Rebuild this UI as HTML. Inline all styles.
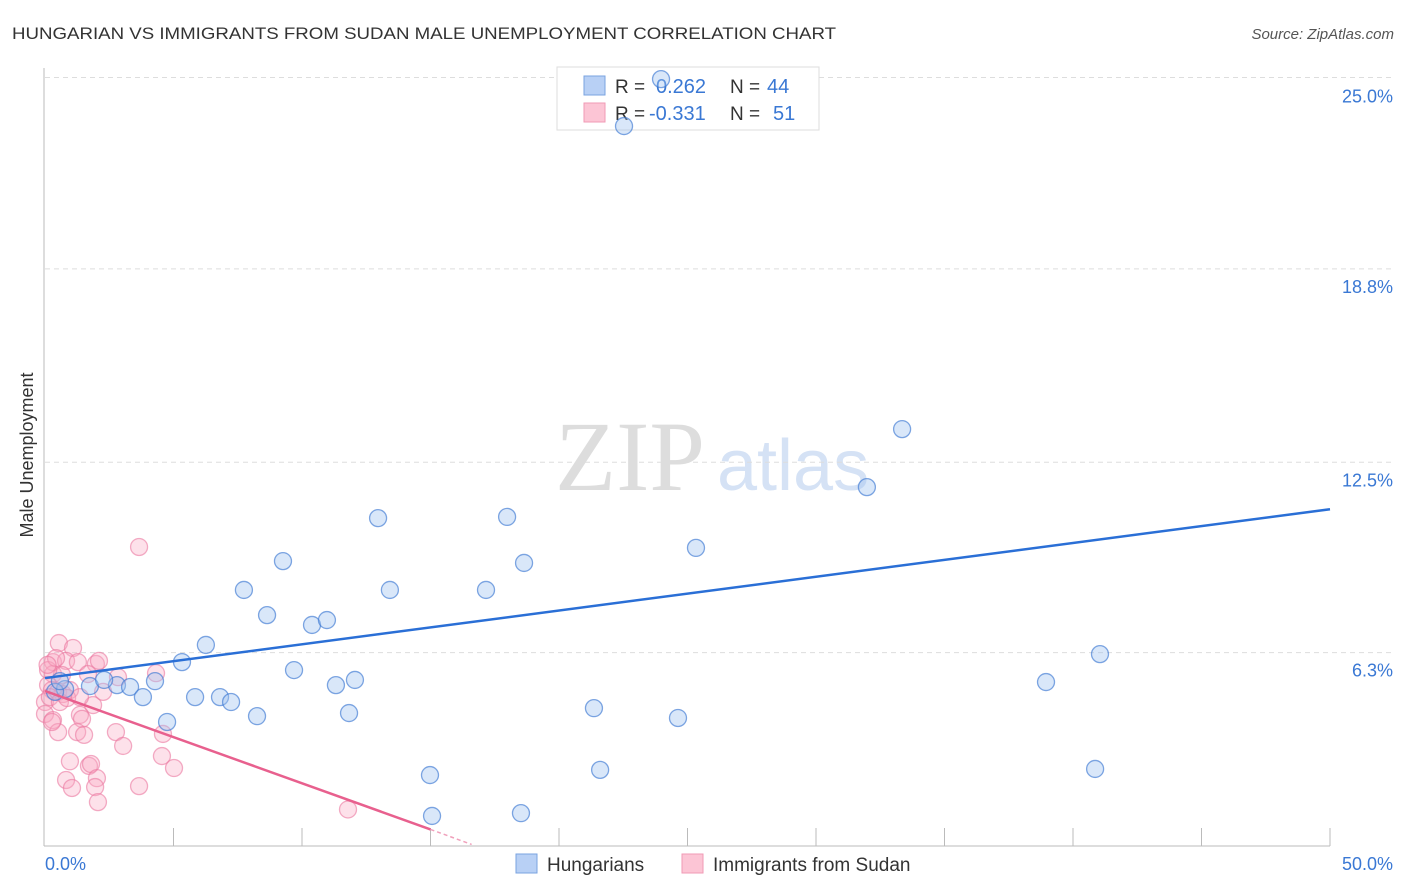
<!DOCTYPE html>
<html><head><meta charset="utf-8"><style>
body{margin:0;background:#fff;font-family:"Liberation Sans",sans-serif}
svg{display:block}
</style></head><body>
<svg id="chart" width="1406" height="892">
<text x="12" y="39" font-size="17" fill="#333" textLength="824" lengthAdjust="spacingAndGlyphs">HUNGARIAN VS IMMIGRANTS FROM SUDAN MALE UNEMPLOYMENT CORRELATION CHART</text>
<text x="1394" y="39" font-size="15" fill="#555" font-style="italic" text-anchor="end">Source: ZipAtlas.com</text>
<text x="33" y="455" font-size="18" fill="#333" text-anchor="middle" transform="rotate(-90 33 455)">Male Unemployment</text>
<text x="555" y="490" font-size="100" fill="#ddd" font-family="Liberation Serif">ZIP</text>
<text x="717" y="490" font-size="72" fill="#d5e2f5">atlas</text>
<g id="grid"></g><g id="axes"></g>
<g>
<rect x="557" y="67" width="262" height="63" fill="#fff" stroke="#ddd"/>
<rect x="584" y="76" width="21" height="19" fill="#b8d0f5" stroke="#7aa3e0"/>
<rect x="584" y="103" width="21" height="19" fill="#fcc5d5" stroke="#f09ab5"/>
<text x="615" y="93" font-size="19" fill="#333">R = </text><text x="656" y="93" font-size="20" fill="#3a78d4">0.262</text>
<text x="730" y="93" font-size="19" fill="#333">N = </text><text x="767" y="93" font-size="20" fill="#3a78d4">44</text>
<text x="615" y="120" font-size="19" fill="#333">R = </text><text x="649" y="120" font-size="20" fill="#3a78d4">-0.331</text>
<text x="730" y="120" font-size="19" fill="#333">N = </text><text x="773" y="120" font-size="20" fill="#3a78d4">51</text>
</g>
<g id="pts"></g><g id="trends"></g>
<g>
<rect x="516" y="854" width="21" height="19" fill="#b8d0f5" stroke="#7aa3e0"/>
<text x="547" y="871" font-size="19" fill="#333">Hungarians</text>
<rect x="682" y="854" width="21" height="19" fill="#fcc5d5" stroke="#f09ab5"/>
<text x="713" y="871" font-size="19" fill="#333">Immigrants from Sudan</text>
</g>
</svg>
<script>
const yTicks=[25,18.8,12.5,6.3];
const yTickLabels=["25.0%","18.8%","12.5%","6.3%"];
const xTickLabels=["0.0%","50.0%"];
const blueX=[23.97,22.53,33.35,31.98,12.96,17.98,25.33,18.64,9.26,7.74,13.42,17.16,8.64,10.39,10.97,6.26,41.05,5.33,9.69,12.06,11.32,4.28,38.95,2.80,3.31,1.75,0.78,0.39,3.81,5.84,6.81,7.24,11.83,8.25,4.75,21.36,24.63,21.60,14.98,40.86,15.06,18.52,0.58,2.30];
const blueY=[24.98,23.45,13.58,11.69,10.68,10.72,9.71,9.22,9.28,8.34,8.34,8.34,7.52,7.20,7.36,6.55,6.25,5.99,5.73,5.41,5.24,5.37,5.34,5.24,5.18,5.21,5.11,5.02,4.85,4.85,4.85,4.69,4.33,4.23,4.04,4.49,4.17,2.48,2.31,2.51,0.98,1.07,5.37,5.41];
const pinkX=[3.66,0.54,1.09,0.31,0.82,1.28,1.98,2.10,0.31,0.66,1.67,2.84,4.32,0.12,0.27,0.51,0.70,0.97,0.0,1.87,2.26,0.0,0.31,0.51,1.36,1.44,1.25,1.52,2.76,4.59,0.27,3.04,4.55,5.02,0.97,1.71,1.79,0.82,2.02,1.05,1.95,3.66,2.06,11.79,0.19,0.58,0.86,1.36,0.12,0.43,0.1];
const pinkY=[9.74,6.61,6.45,5.99,6.03,5.99,5.93,6.03,5.60,5.57,5.60,5.50,5.63,5.24,5.08,5.02,4.95,5.08,4.69,4.59,5.02,4.30,4.10,3.71,4.27,4.14,3.71,3.62,3.71,3.65,4.04,3.26,2.93,2.54,2.76,2.61,2.67,2.15,2.21,1.89,1.92,1.95,1.43,1.19,4.85,4.69,4.82,4.85,5.73,6.12,5.9];
const blueTrend=[[0,5.47],[50,10.97]];
const pinkTrend=[[0,5.05],[15,0.54]];
const pinkTrendDash=[[15,0.54],[16.6,0.05]];
const X=v=>45+v*25.7, Y=v=>846-v*30.7;
const NS="http://www.w3.org/2000/svg";
function mk(tag,attrs,parent){const e=document.createElementNS(NS,tag);for(const k in attrs)e.setAttribute(k,attrs[k]);document.getElementById(parent).appendChild(e);return e;}
yTicks.forEach((t,i)=>{
 const l=mk('line',{x1:45,x2:1395,y1:Y(t)+(i==0?-1:0),y2:Y(t)+(i==0?-1:0),stroke:'#ddd','stroke-dasharray':'5,4'},'grid');
 
 
 const tx=mk('text',{x:1393,y:Y(t)+24,'font-size':18,fill:'#3a78d4','text-anchor':'end'},'grid');
 tx.textContent=yTickLabels[i];
 
 
});
const ax=mk('line',{x1:44,x2:44,y1:68,y2:846,stroke:'#bbb'},'axes');


const bx=mk('line',{x1:44,x2:1330,y1:846,y2:846,stroke:'#bbb'},'axes');


for(let i=1;i<=10;i++){const t=mk('line',{x1:X(i*5),x2:X(i*5),y1:828,y2:846,stroke:'#bbb'},'axes');
 
 }
[[0,'start',45],[50,'end',1393]].forEach((d,i)=>{const t=mk('text',{x:d[2],y:870,'font-size':18,fill:'#3a78d4','text-anchor':d[1]},'axes');t.textContent=xTickLabels[i];
 
 });
pinkX.forEach((v,i)=>{const c=mk('circle',{cx:X(v),cy:Y(pinkY[i]),r:8.5,fill:'rgba(248,170,195,0.35)',stroke:'rgba(235,120,160,0.6)','stroke-width':1.3},'pts');
 
 });
blueX.forEach((v,i)=>{const c=mk('circle',{cx:X(v),cy:Y(blueY[i]),r:8.5,fill:'rgba(160,195,240,0.4)',stroke:'rgba(60,120,210,0.65)','stroke-width':1.3},'pts');
 
 });
const bl=mk('line',{x1:X(blueTrend[0][0]),y1:Y(blueTrend[0][1]),x2:X(blueTrend[1][0]),y2:Y(blueTrend[1][1]),stroke:'#2a6fd6','stroke-width':2.5},'trends');


const pl=mk('line',{x1:X(pinkTrend[0][0]),y1:Y(pinkTrend[0][1]),x2:X(pinkTrend[1][0]),y2:Y(pinkTrend[1][1]),stroke:'#e8608e','stroke-width':2.5},'trends');


const pd=mk('line',{x1:X(pinkTrendDash[0][0]),y1:Y(pinkTrendDash[0][1]),x2:X(pinkTrendDash[1][0]),y2:Y(pinkTrendDash[1][1]),stroke:'#f0a0bb','stroke-width':1.5,'stroke-dasharray':'4,3'},'trends');


</script>
</body></html>
